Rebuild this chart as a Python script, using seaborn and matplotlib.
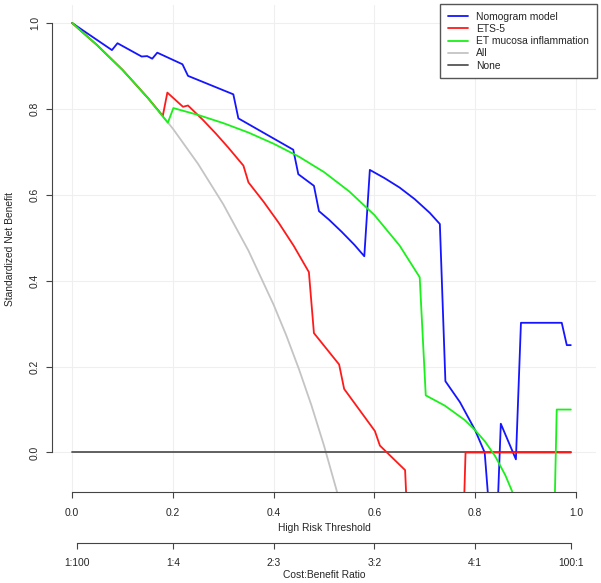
import numpy as np
import pandas as pd
import matplotlib
matplotlib.use('Agg')
import matplotlib.pyplot as plt
import seaborn as sns

sns.set_style('white')
plt.rcParams['font.family'] = ['Liberation Sans', 'DejaVu Sans']

# decision curve data (standardized net benefit)
nomo_x = [0, 0.079, 0.09, 0.138, 0.149, 0.159, 0.169, 0.219, 0.23, 0.32, 0.33, 0.439, 0.449,
          0.48, 0.49, 0.51, 0.535, 0.56, 0.58, 0.591, 0.62, 0.65, 0.68, 0.71, 0.73, 0.741,
          0.77, 0.80, 0.819, 0.827, 0.845, 0.851, 0.881, 0.891, 0.972, 0.982, 0.99]
nomo_y = [1.0, 0.937, 0.953, 0.922, 0.923, 0.917, 0.931, 0.904, 0.877, 0.834, 0.778, 0.705, 0.648,
          0.621, 0.562, 0.542, 0.514, 0.484, 0.457, 0.658, 0.639, 0.617, 0.590, 0.558, 0.532, 0.166,
          0.117, 0.052, 0.0, -0.12, -0.12, 0.067, -0.016, 0.302, 0.302, 0.25, 0.25]

ets_x = [0, 0.05, 0.1, 0.15, 0.18, 0.189, 0.22, 0.23, 0.26, 0.285, 0.31, 0.34, 0.35, 0.38, 0.41,
         0.44, 0.47, 0.48, 0.53, 0.54, 0.601, 0.611, 0.661, 0.664, 0.778, 0.781, 0.99]
ets_y = [1.0, 0.948, 0.891, 0.826, 0.784, 0.838, 0.805, 0.808, 0.774, 0.743, 0.710, 0.668, 0.629,
         0.584, 0.535, 0.481, 0.420, 0.278, 0.205, 0.148, 0.050, 0.016, -0.041, -0.12, -0.12, 0.0, 0.0]

etm_x = [0, 0.05, 0.1, 0.15, 0.19, 0.201, 0.25, 0.3, 0.35, 0.4, 0.45, 0.5, 0.55, 0.6, 0.65, 0.69,
         0.702, 0.74, 0.78, 0.80, 0.82, 0.84, 0.86, 0.874, 0.88, 0.958, 0.962, 0.99]
etm_y = [1.0, 0.948, 0.891, 0.826, 0.768, 0.802, 0.786, 0.767, 0.745, 0.719, 0.689, 0.653, 0.608,
         0.553, 0.482, 0.408, 0.133, 0.109, 0.075, 0.052, 0.025, -0.009, -0.053, -0.092, -0.12,
         -0.12, 0.1, 0.1]

all_x = [0, 0.05, 0.1, 0.15, 0.2, 0.25, 0.3, 0.35, 0.4, 0.425, 0.45, 0.475, 0.5, 0.525, 0.55]
all_y = [1.0, 0.948, 0.891, 0.826, 0.754, 0.672, 0.578, 0.470, 0.344, 0.273, 0.195, 0.110, 0.016,
         -0.088, -0.203]

none_x = [0, 0.99]
none_y = [0, 0]

series = [
    ('All', all_x, all_y, '#C4C4C4'),
    ('None', none_x, none_y, '#555555'),
    ('Nomogram model', nomo_x, nomo_y, '#1515FF'),
    ('ETS-5', ets_x, ets_y, '#FF1A1A'),
    ('ET mucosa inflammation', etm_x, etm_y, '#1AF01A'),
]
legend_order = ['Nomogram model', 'ETS-5', 'ET mucosa inflammation', 'All', 'None']

fs = 7.4
fig = plt.figure(figsize=(6.01, 5.83), dpi=100)
ax = fig.add_axes([52 / 601, 1 - 492 / 583, 544 / 601, 487 / 583])

for name, xs, ys, col in series:
    d = pd.DataFrame({'threshold': xs, 'snb': ys})
    sns.lineplot(data=d, x='threshold', y='snb', ax=ax, color=col, lw=1.3,
                 estimator=None, sort=False, label=name)

ax.set_xlim(-0.04, 1.04)
ax.set_ylim(-0.092, 1.042)
ax.grid(True, color='#EFEFEF', lw=0.8)
ax.set_axisbelow(True)

for s in ['top', 'right']:
    ax.spines[s].set_visible(False)
ax.spines['left'].set_bounds(0, 1)
ax.spines['bottom'].set_bounds(0, 1)
for s in ['left', 'bottom']:
    ax.spines[s].set_color('#444444')
    ax.spines[s].set_linewidth(0.8)

ticks = [0, 0.2, 0.4, 0.6, 0.8, 1.0]
ax.set_xticks(ticks)
ax.set_xticklabels([f'{t:.1f}' for t in ticks])
ax.set_yticks(ticks)
ax.set_yticklabels([f'{t:.1f}' for t in ticks], rotation=90, va='center')
ax.tick_params(bottom=True, left=True, direction='out', length=4.3, width=0.8,
               color='#444444', labelsize=fs)
ax.tick_params(axis='x', pad=7.5)
ax.tick_params(axis='y', pad=4.5)
ax.set_xlabel('High Risk Threshold', fontsize=fs, labelpad=3)
ax.set_ylabel('Standardized Net Benefit', fontsize=fs, labelpad=10.5)

# cost:benefit axis
cb_ticks = [0.01, 0.2, 0.4, 0.6, 0.8, 0.99]
cb_labels = ['1:100', '1:4', '2:3', '3:2', '4:1', '100:1']
sec = ax.secondary_xaxis(-0.104)
sec.set_xticks(cb_ticks)
sec.set_xticklabels(cb_labels)
sec.spines['bottom'].set_bounds(0.01, 0.99)
sec.spines['bottom'].set_color('#444444')
sec.spines['bottom'].set_linewidth(0.8)
sec.tick_params(bottom=True, direction='out', length=4.3, width=0.8, color='#444444',
                labelsize=fs, pad=6.4)
sec.set_xlabel('Cost:Benefit Ratio', fontsize=fs, labelpad=2)

handles, labels = ax.get_legend_handles_labels()
hmap = dict(zip(labels, handles))
ax.legend([hmap[k] for k in legend_order], legend_order, loc='upper right',
          bbox_to_anchor=(597 / 601, 1 - 4 / 583), bbox_transform=fig.transFigure,
          fontsize=fs, frameon=True, fancybox=False, framealpha=1, edgecolor='#555555',
          borderpad=0.75, handlelength=2.0, handletextpad=0.8, labelspacing=0.22,
          borderaxespad=0)

plt.savefig('out.png', dpi=100)
